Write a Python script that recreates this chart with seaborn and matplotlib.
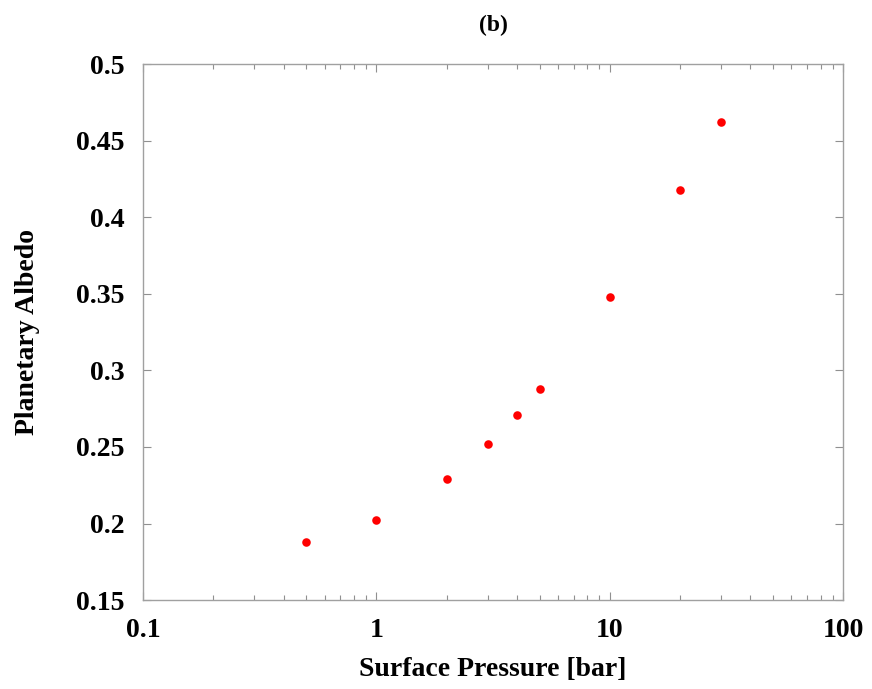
import matplotlib
matplotlib.use("Agg")
import matplotlib.pyplot as plt
import seaborn as sns
import pandas as pd
from matplotlib.ticker import LogLocator, FixedLocator, NullFormatter

pressure = [0.5, 1, 2, 3, 4, 5, 10, 20, 30]
albedo = [0.188, 0.202, 0.229, 0.252, 0.271, 0.288, 0.348, 0.418, 0.462]
x_ticks = [0.1, 1, 10, 100]
x_tick_labels = ["0.1", "1", "10", "100"]
y_ticks = [0.15, 0.2, 0.25, 0.3, 0.35, 0.4, 0.45, 0.5]
y_tick_labels = ["0.15", "0.2", "0.25", "0.3", "0.35", "0.4", "0.45", "0.5"]

sns.set_style("ticks")
plt.rcParams['font.family'] = ['Liberation Serif', 'DejaVu Serif']
plt.rcParams['font.weight'] = 'bold'
plt.rcParams['text.color'] = 'black'
plt.rcParams['axes.labelcolor'] = 'black'
plt.rcParams['xtick.labelcolor'] = 'black'
plt.rcParams['ytick.labelcolor'] = 'black'

df = pd.DataFrame({"p": pressure, "a": albedo})

fig = plt.figure(figsize=(8.72, 6.89), dpi=100)
ax = fig.add_axes([0.164, 0.129, 0.803, 0.778])
sns.scatterplot(data=df, x="p", y="a", ax=ax, color="#ff0000", s=38, linewidth=0, zorder=3)
ax.set_xscale("log")
ax.set_xlim(0.1, 100)
ax.set_ylim(0.15, 0.5)
ax.xaxis.set_major_locator(FixedLocator(x_ticks))
ax.set_xticklabels(x_tick_labels)
ax.xaxis.set_minor_locator(LogLocator(base=10, subs=range(2, 10)))
ax.xaxis.set_minor_formatter(NullFormatter())
ax.set_yticks(y_ticks)
ax.set_yticklabels(y_tick_labels)

for s in ax.spines.values():
    s.set_color("#a0a0a0")
    s.set_linewidth(1.0)
ax.tick_params(which="both", direction="in", top=True, right=True, color="#909090",
               labelsize=20, labelcolor="black")
ax.tick_params(axis="y", pad=13)
ax.tick_params(axis="x", pad=13)
ax.tick_params(which="major", length=6, width=0.8)
ax.tick_params(which="minor", length=3.5, width=0.8)
for lab in ax.get_xticklabels() + ax.get_yticklabels():
    lab.set_fontweight("bold")

ax.set_xlabel("Surface Pressure [bar]", fontsize=20, fontweight="bold", labelpad=10, color="black")
ax.set_ylabel("Planetary Albedo", fontsize=20, fontweight="bold", labelpad=26, color="black")
ax.set_title("(b)", fontsize=17, fontweight="bold", pad=24, color="black")

fig.savefig("out.png", dpi=100, facecolor="white")
